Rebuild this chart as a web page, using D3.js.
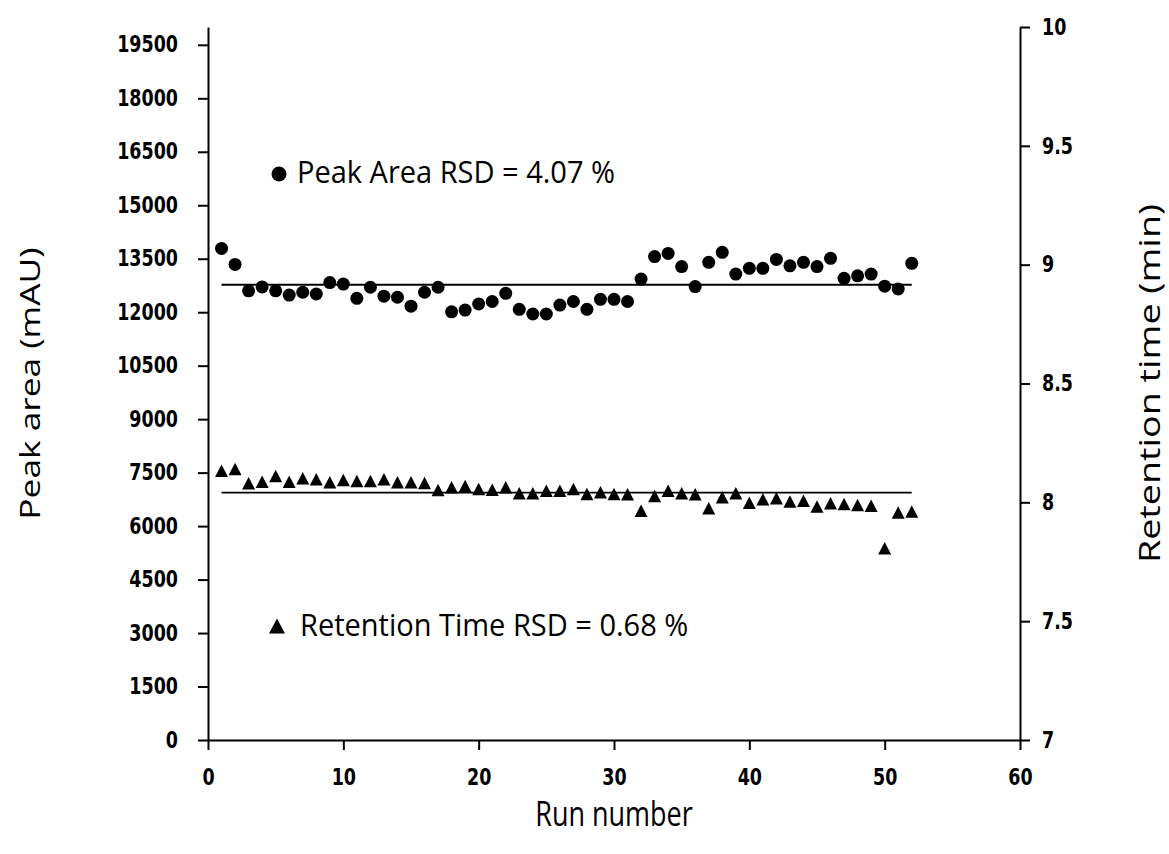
<!DOCTYPE html>
<html>
<head>
<meta charset="utf-8">
<title>Peak area and retention time</title>
<script src="https://cdn.jsdelivr.net/npm/d3@7/dist/d3.min.js"></script>
<style>
body { margin: 0; background: #fff; }
.tick text { font-family: "DejaVu Sans", Verdana, sans-serif; font-size: 17.5px; font-weight: bold; fill: #000; }
.title { font-family: "Open Sans", "Noto Sans", sans-serif; font-size: 27px; fill: #000; }
.note { font-family: "Open Sans", "Noto Sans", sans-serif; font-size: 29px; fill: #000; }
</style>
</head>
<body>
<div id="chart"></div>
<script>
// run numbers
const runs = d3.range(1, 53);

// peak area (mAU)
const peakArea = [13790, 13340, 12600, 12710, 12600, 12480, 12560, 12510, 12830, 12790,
  12390, 12700, 12450, 12420, 12170, 12560, 12700, 12010, 12060, 12230,
  12300, 12530, 12080, 11950, 11950, 12200, 12300, 12080, 12360, 12360,
  12300, 12930, 13560, 13650, 13280, 12720, 13400, 13680, 13070, 13230,
  13230, 13480, 13300, 13400, 13280, 13510, 12950, 13020, 13070, 12730,
  12650, 13370];

// retention time (min)
const retTime = [8.133, 8.140, 8.080, 8.087, 8.111, 8.087, 8.101, 8.097, 8.084, 8.094,
  8.090, 8.090, 8.097, 8.084, 8.084, 8.081, 8.052, 8.063, 8.069, 8.056,
  8.053, 8.063, 8.038, 8.038, 8.049, 8.049, 8.056, 8.035, 8.042, 8.035,
  8.034, 7.965, 8.027, 8.049, 8.038, 8.034, 7.975, 8.021, 8.038, 7.998,
  8.013, 8.017, 8.003, 8.007, 7.982, 7.996, 7.993, 7.989, 7.986, 7.807,
  7.957, 7.961];

// mean lines
const meanArea = 12770;
const meanTime = 8.041;

const leftTicks = d3.range(0, 19501, 1500);
const rightTicks = [7, 7.5, 8, 8.5, 9, 9.5, 10];
const xTicks = [0, 10, 20, 30, 40, 50, 60];

const width = 1169, height = 854;
const margin = { top: 27, right: 149, bottom: 114, left: 208 };
const stretch = 1.28; // the glyphs in the picture are taller than they are wide

const svg = d3.select("#chart").append("svg")
  .attr("width", width).attr("height", height);

const x = d3.scaleLinear().domain([0, 60]).range([margin.left, width - margin.right]);
const yL = d3.scaleLinear().domain([0, 20000]).range([height - margin.bottom, margin.top]);
const yR = d3.scaleLinear().domain([7, 10]).range([height - margin.bottom, margin.top]);

function styleAxis(g) {
  g.selectAll(".domain").attr("stroke", "#000").attr("stroke-width", 2);
  g.selectAll(".tick line").attr("stroke", "#000").attr("stroke-width", 2);
  // stretch tick labels vertically, keep their anchor point
  g.selectAll(".tick text").each(function() {
    const t = d3.select(this);
    const y0 = +t.attr("y") || 0;
    t.attr("y", y0 / stretch).attr("transform", `scale(1,${stretch})`);
  });
}

// bottom axis
svg.append("g")
  .attr("transform", `translate(0,${height - margin.bottom})`)
  .call(d3.axisBottom(x).tickValues(xTicks).tickSize(10).tickSizeOuter(0).tickPadding(19))
  .call(styleAxis);

// left axis
svg.append("g")
  .attr("transform", `translate(${margin.left},0)`)
  .call(d3.axisLeft(yL).tickValues(leftTicks).tickSize(10).tickSizeOuter(0).tickPadding(20)
    .tickFormat(d3.format("d")))
  .call(styleAxis);

// right axis
svg.append("g")
  .attr("transform", `translate(${width - margin.right},0)`)
  .call(d3.axisRight(yR).tickValues(rightTicks).tickSize(10).tickSizeOuter(0).tickPadding(12)
    .tickFormat(d3.format("")))
  .call(styleAxis);

// mean lines
svg.append("line")
  .attr("x1", x(runs[0])).attr("x2", x(runs[runs.length - 1]))
  .attr("y1", yL(meanArea)).attr("y2", yL(meanArea))
  .attr("stroke", "#000").attr("stroke-width", 2);
svg.append("line")
  .attr("x1", x(runs[0])).attr("x2", x(runs[runs.length - 1]))
  .attr("y1", yR(meanTime)).attr("y2", yR(meanTime))
  .attr("stroke", "#000").attr("stroke-width", 1.6);

// peak area circles
svg.append("g").selectAll("circle").data(peakArea).join("circle")
  .attr("cx", (d, i) => x(runs[i]))
  .attr("cy", d => yL(d))
  .attr("r", 6.5)
  .attr("fill", "#000");

// retention time triangles (centred on their box, like spreadsheet markers)
function triangle(w, h) {
  return `M0,${-h / 2}L${w / 2},${h / 2}L${-w / 2},${h / 2}Z`;
}
svg.append("g").selectAll("path").data(retTime).join("path")
  .attr("d", triangle(13, 12.5))
  .attr("transform", (d, i) => `translate(${x(runs[i])},${yR(d)})`)
  .attr("fill", "#000");

// annotations
svg.append("circle").attr("cx", 279).attr("cy", 174).attr("r", 7.5).attr("fill", "#000");
svg.append("text").attr("class", "note")
  .attr("transform", "translate(297,183) scale(1,1.06)")
  .text("Peak Area RSD = 4.07 %");
svg.append("path").attr("d", triangle(16, 15))
  .attr("transform", "translate(277,626)").attr("fill", "#000");
svg.append("text").attr("class", "note")
  .attr("transform", "translate(300,636) scale(1,1.06)")
  .text("Retention Time RSD = 0.68 %");

// axis titles
const midY = (margin.top + height - margin.bottom) / 2;
svg.append("text").attr("class", "title")
  .attr("text-anchor", "middle")
  .style("font-size", "28px")
  .attr("transform", `translate(40,${midY}) rotate(-90) scale(1.26,1)`)
  .text("Peak area (mAU)");
svg.append("text").attr("class", "title")
  .attr("text-anchor", "middle")
  .style("font-size", "29px")
  .attr("transform", `translate(1160,${midY}) rotate(-90) scale(1.3,1)`)
  .text("Retention time (min)");
svg.append("text").attr("class", "title")
  .attr("text-anchor", "middle")
  .attr("transform", `translate(${(margin.left + width - margin.right) / 2},826) scale(1,1.3)`)
  .text("Run number");
</script>
</body>
</html>
